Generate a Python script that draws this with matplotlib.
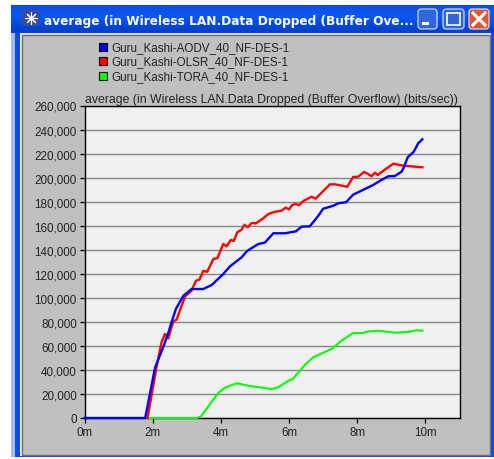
import numpy as np
from matplotlib import pyplot as plt
from matplotlib.patches import Rectangle, FancyBboxPatch
from matplotlib.ticker import FuncFormatter

plt.rcParams['font.family'] = ['Liberation Sans', 'DejaVu Sans']

WINDOW_TITLE = "average (in Wireless LAN.Data Dropped (Buffer Ove..."
CHART_TITLE = "average (in Wireless LAN.Data Dropped (Buffer Overflow) (bits/sec))"
NAMES = ["Guru_Kashi-AODV_40_NF-DES-1", "Guru_Kashi-OLSR_40_NF-DES-1", "Guru_Kashi-TORA_40_NF-DES-1"]
COLORS = ["#0000ff", "#ff0000", "#00ff00"]

# minutes / bits per second
aodv_t = [0, 1.78, 2.07, 2.21, 2.31, 2.46, 2.6, 2.68, 2.9, 3.14, 3.48, 3.73, 4.07, 4.27, 4.61, 4.77, 5.1, 5.29,
          5.54, 5.88, 6.2, 6.37, 6.61, 6.86, 7.0, 7.3, 7.44, 7.67, 7.88, 8.47, 8.67, 8.91, 9.1, 9.3, 9.37, 9.48,
          9.66, 9.79, 9.91]
aodv_v = [0, 0, 42000, 52000, 59000, 71000, 83800, 90700, 101700, 107300, 107300, 110600, 119800, 126200, 133700,
          139000, 144800, 145900, 153700, 153700, 155300, 159200, 159500, 168300, 174100, 176600, 178600, 179500,
          185800, 193900, 197400, 201100, 201300, 204900, 208600, 216900, 221600, 228600, 231900]

olsr_t = [1.85, 1.87, 2.12, 2.26, 2.36, 2.46, 2.6, 2.7, 2.95, 3.14, 3.27, 3.37, 3.48, 3.6, 3.78, 3.9, 4.07, 4.17,
          4.29, 4.38, 4.48, 4.61, 4.69, 4.79, 4.9, 5.03, 5.24, 5.39, 5.59, 5.78, 5.9, 6.0, 6.09, 6.2, 6.29, 6.42,
          6.66, 6.78, 7.2, 7.35, 7.71, 7.88, 8.03, 8.2, 8.32, 8.42, 8.52, 8.6, 8.81, 9.06, 9.35, 9.91]
olsr_v = [0, 3300, 43500, 63000, 69900, 66300, 80100, 81800, 101200, 105900, 114200, 115100, 122300, 121700, 132300,
          133100, 144800, 142800, 148100, 147300, 154500, 156700, 160800, 158700, 162200, 162000, 166100, 169700,
          171600, 172500, 175000, 173600, 177200, 178000, 177000, 180500, 184100, 182500, 194400, 194400, 192400,
          200500, 200800, 204700, 203000, 201100, 204100, 202200, 206600, 211600, 209900, 208600]

tora_t = [0, 3.3, 3.42, 3.92, 4.12, 4.46, 4.85, 5.49, 5.68, 5.98, 6.1, 6.47, 6.71, 6.96, 7.25, 7.54, 7.88, 8.18,
          8.27, 8.62, 9.1, 9.5, 9.74, 9.91]
tora_v = [0, 0, 1400, 20800, 25200, 28900, 26600, 24100, 25500, 31000, 32200, 44300, 50500, 53800, 57400, 64300,
          70700, 70700, 71800, 72600, 71000, 71600, 73000, 72600]

x_ticks = [0, 2, 4, 6, 8, 10]
y_ticks = list(range(0, 260001, 20000))

W, H = 494, 460
fig = plt.figure(figsize=(W / 100, H / 100), dpi=100, facecolor="white")

# window chrome, in pixels
bg = fig.add_axes([0, 0, 1, 1])
bg.axis("off")
bg.add_patch(Rectangle((11, 6), 483, 452, color="#0a4fe0", lw=0))
bg.add_patch(Rectangle((11, 6), 4, 452, color="#a9b9ea", lw=0))
grad = np.array([[0.05, 0.30, 0.90], [0.05, 0.36, 0.95], [0.02, 0.30, 0.88], [0.0, 0.25, 0.80]])[:, None, :]
bg.imshow(grad, extent=(11, 494, 34, 6), aspect="auto", interpolation="bicubic", zorder=1)
bg.set_xlim(0, W)
bg.set_ylim(H, 0)
bg.add_patch(Rectangle((20, 34), 471, 423, color="#e8e8f0", lw=0, zorder=2))
bg.add_patch(Rectangle((22, 36), 468, 420, facecolor="#c0c0c0", edgecolor="#707070", lw=1, zorder=2))

bg.add_patch(Rectangle((22, 11), 17, 16, color="#3a4a9a", lw=0, zorder=3))
bg.plot([30.5], [19], marker=(8, 2), color="white", ms=9, mew=0.8, zorder=4)
bg.text(44, 21, WINDOW_TITLE, color="white", fontsize=8.75, fontweight="bold", family="DejaVu Sans",
        va="center", ha="left", zorder=4)

for bx, bw, col in [(417, 21, "#2f66e0"), (442, 23, "#2f66e0"), (468, 22, "#e0572f")]:
    bg.add_patch(FancyBboxPatch((bx + 1, 10), bw - 2, 20, boxstyle="round,pad=0,rounding_size=3",
                                facecolor=col, edgecolor="#dfe8fa", lw=0.8, zorder=3))
bg.add_patch(Rectangle((422, 23), 7, 3, color="white", lw=0, zorder=4))
bg.add_patch(Rectangle((447, 14), 13, 12, facecolor="none", edgecolor="white", lw=1.2, zorder=4))
bg.plot([473, 485], [14, 26], color="white", lw=2.2, zorder=4)
bg.plot([473, 485], [26, 14], color="white", lw=2.2, zorder=4)

# legend
for i, (name, col) in enumerate(zip(NAMES, COLORS)):
    y = 48 + i * 14.4
    bg.add_patch(Rectangle((98.5, y - 4), 8, 8, facecolor=col, edgecolor="black", lw=0.8, zorder=3))
    bg.text(111, y, name, fontsize=8.35, color="#222222", va="center", ha="left", zorder=4)

# plot
ax = fig.add_axes([84.5 / W, 1 - 419 / H, 375 / W, 312.5 / H], facecolor="#f0f0f0")
ax.plot(tora_t, tora_v, color=COLORS[2], lw=1.5, zorder=3, clip_on=False)
ax.plot(olsr_t, olsr_v, color=COLORS[1], lw=1.7, zorder=4, clip_on=False)
ax.plot(aodv_t, aodv_v, color=COLORS[0], lw=1.7, zorder=5, clip_on=False)
ax.set_xlim(0, 11)
ax.set_ylim(0, 260000)
ax.set_xticks(x_ticks)
ax.set_yticks(y_ticks)
ax.xaxis.set_major_formatter(FuncFormatter(lambda v, p: "%dm" % v))
ax.yaxis.set_major_formatter(FuncFormatter(lambda v, p: format(int(v), ",")))
ax.tick_params(labelsize=8.4, length=3.5, width=0.9, pad=2, labelcolor="#222222")
ax.grid(axis="y", color="#858585", lw=1)
ax.set_axisbelow(True)
for s in ax.spines.values():
    s.set_linewidth(1)
ax.set_title(CHART_TITLE, fontsize=8.8, color="#222222", pad=2.5, x=0.4985)

fig.savefig("out.png", dpi=100)
